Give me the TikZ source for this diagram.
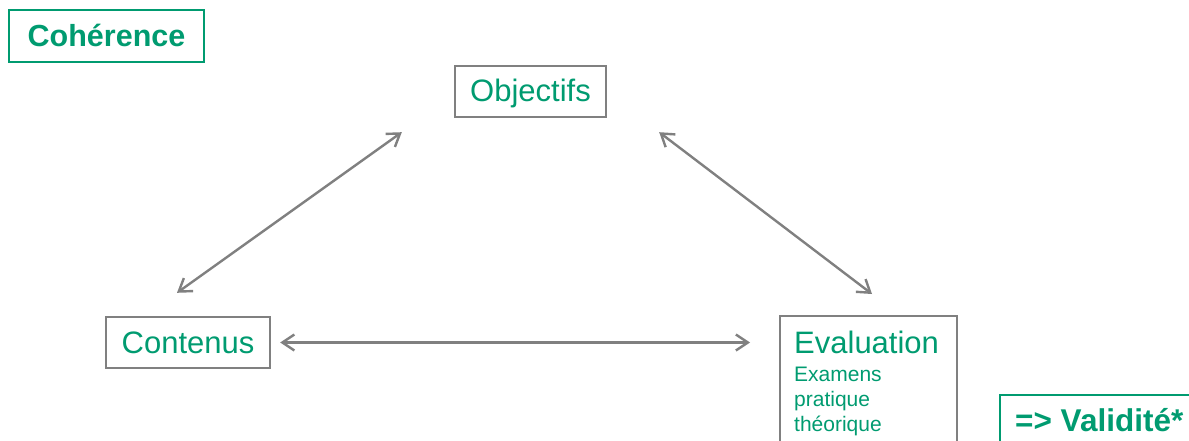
\documentclass[tikz,border=0pt]{standalone}
\usepackage{fontspec}
\setmainfont{Liberation Sans}
\usetikzlibrary{arrows.meta,calc}
\definecolor{vert}{RGB}{0,155,112}
\definecolor{gris}{RGB}{128,128,128}
\tikzset{
  graybox/.style={draw=gris,line width=2.4pt,text=vert,inner sep=0pt,text height=21pt,text depth=0pt,font=\fontsize{31}{37}\selectfont},
  greenbox/.style={draw=vert,line width=2.4pt,text=vert,inner sep=0pt,text height=20pt,text depth=0pt,font=\bfseries\fontsize{30.5}{36}\selectfont},
  subtext/.style={text=vert,anchor=base west,inner sep=0pt,font=\fontsize{21}{25}\selectfont},
  link/.style={draw=gris,line width=2.4pt,{Straight Barb[length=12pt,width=16pt]}-{Straight Barb[length=12pt,width=16pt]}}
}
\begin{document}
\begin{tikzpicture}[x=1pt,y=-1pt]
\useasboundingbox (0,0) rectangle (1189,441);
\node[greenbox,minimum width=195pt,minimum height=52pt] (coh) at (106.5,36.3) {Cohérence};
\node[graybox,minimum width=151pt,minimum height=51pt] (obj) at (530.5,91.5) {Objectifs};
\node[graybox,minimum width=164pt,minimum height=51pt] (cont) at (188,342.5) {Contenus};
\draw[gris,line width=2.4pt] (780,470) -- (780,316) -- (957,316) -- (957,470);
\node[text=vert,anchor=base west,inner sep=0pt,font=\fontsize{31}{37}\selectfont] (eval) at (794,353) {Evaluation};
\node[subtext] (ex1) at (794,381.7) {Examens};
\node[subtext] (ex2) at (794,406.7) {pratique};
\node[subtext] (ex3) at (794,431.5) {théorique};
\draw[vert,line width=2.4pt] (1000,470) -- (1000,395) -- (1210,395);
\node[text=vert,anchor=base west,inner sep=0pt,font=\bfseries\fontsize{31.5}{37}\selectfont] (val) at (1015,431.5) {=> Validité*};
\coordinate (a1) at ($(obj.south west)+(-52,14)$);
\coordinate (a2) at ($(cont.north)+(-11,-23)$);
\coordinate (b1) at ($(obj.south east)+(52,14)$);
\coordinate (b2) at (872,294);
\coordinate (c1) at ($(cont.east)+(9,0)$);
\coordinate (c2) at (750,342.5);
\draw[link] (a1) -- (a2);
\draw[link] (b1) -- (b2);
\draw[link] (c1) -- (c2);
\end{tikzpicture}
\end{document}
